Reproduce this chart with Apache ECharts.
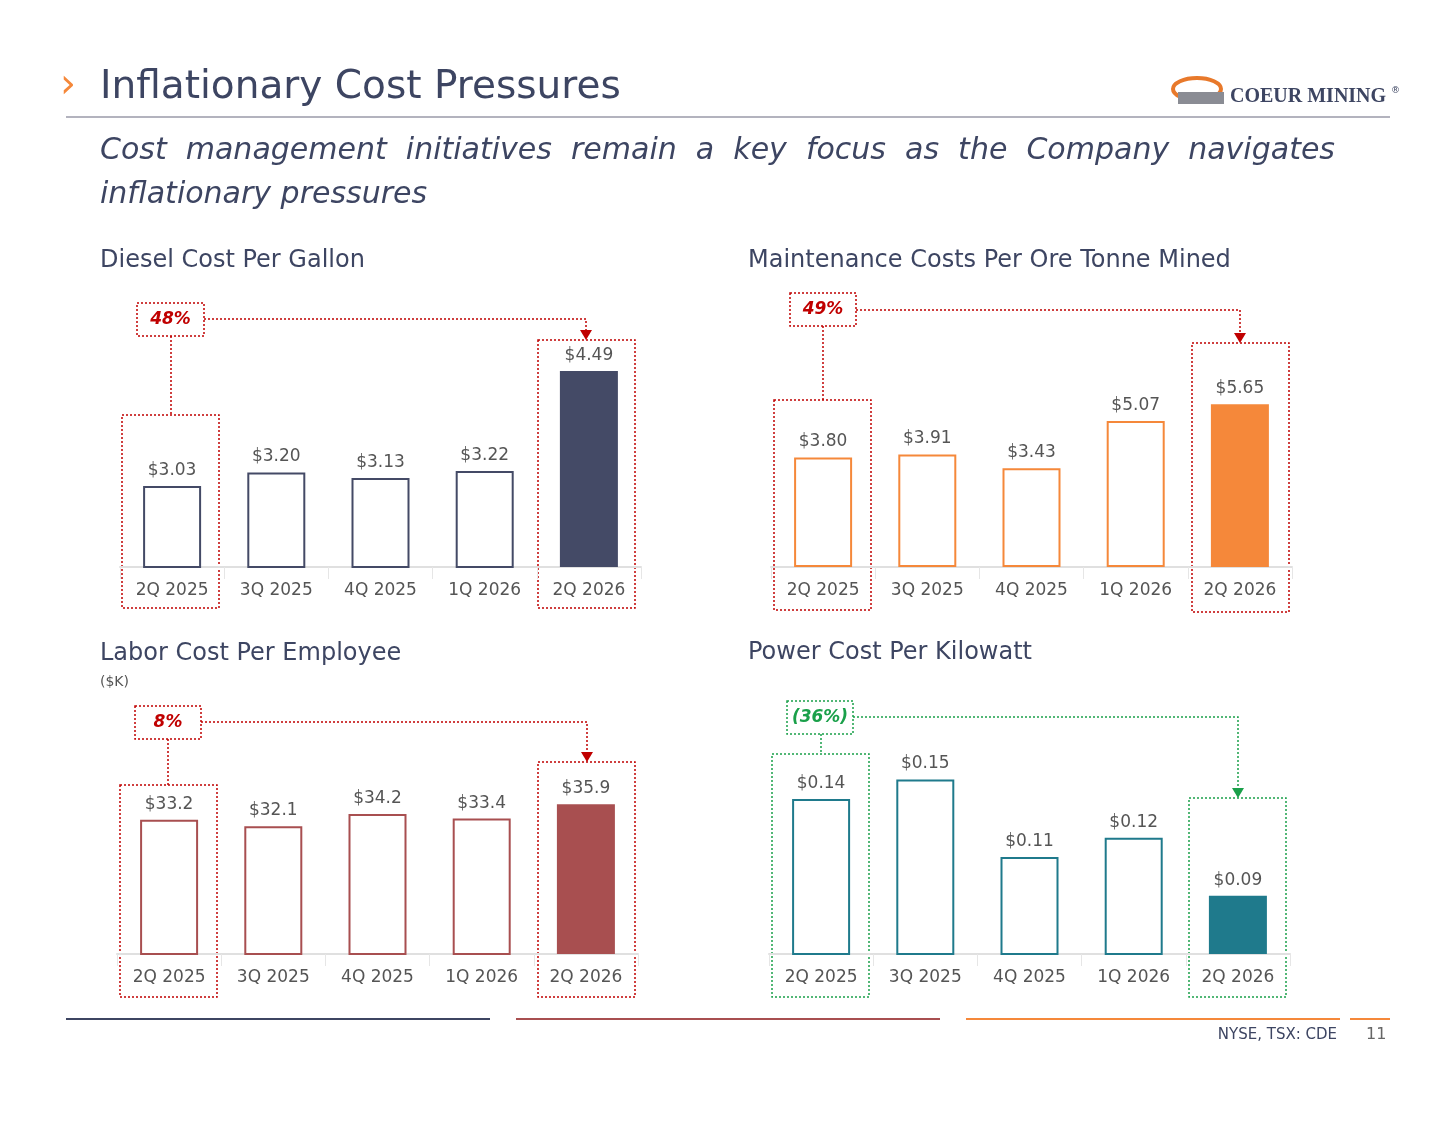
<!DOCTYPE html>
<html><head><meta charset="utf-8">
<script src="https://cdn.jsdelivr.net/npm/echarts@6/dist/echarts.min.js"></script>
<style>html,body{margin:0;padding:0;background:#fff}#c{width:1456px;height:1125px}</style>
</head><body><div id="c"></div>
<script>
const categories = ['2Q 2025','3Q 2025','4Q 2025','1Q 2026','2Q 2026'];
const diesel = [3.03, 3.20, 3.13, 3.22, 4.49];
const maintenance = [3.80, 3.91, 3.43, 5.07, 5.65];
const labor = [33.2, 32.1, 34.2, 33.4, 35.9];
const power = [0.14, 0.15, 0.11, 0.12, 0.09];
const dieselLabels = ['$3.03','$3.20','$3.13','$3.22','$4.49'];
const maintLabels = ['$3.80','$3.91','$3.43','$5.07','$5.65'];
const laborLabels = ['$33.2','$32.1','$34.2','$33.4','$35.9'];
const powerLabels = ['$0.14','$0.15','$0.11','$0.12','$0.09'];

const FONT = 'DejaVu Sans';
const NAVY = '#3d4562';
const chart = echarts.init(document.getElementById('c'));

const grids = [
  {left:120, width:521, top:300, height:267},
  {left:771, width:521, top:300, height:267},
  {left:117, width:521, top:700, height:254},
  {left:769, width:521, top:700, height:254}
];
const yr = [[2, 5.39],[0, 9.27],[10, 53.9],[0.06, 0.191]];
const cols = ['#444a66','#f5883a','#a84f50','#1f7a8c'];
const vals = [diesel, maintenance, labor, power];
const labs = [dieselLabels, maintLabels, laborLabels, powerLabels];

const xAxis = grids.map((g,i)=>({type:'category', gridIndex:i, data:categories,
  axisLine:{lineStyle:{color:'#e0e0e0', width:2}},
  axisTick:{show:true, length:12, lineStyle:{color:'#e6e6e6'}},
  axisLabel:{color:'#555', fontFamily:FONT, fontSize:17, margin:15}}));
const yAxis = grids.map((g,i)=>({type:'value', gridIndex:i, min:yr[i][0], max:yr[i][1], show:false, splitLine:{show:false}}));
const series = vals.map((v,i)=>({type:'bar', xAxisIndex:i, yAxisIndex:i, barWidth:58,
  data:v.map((d,j)=>({value:d, itemStyle: j===4 ? {color:cols[i]} : {color:'#fff', borderColor:cols[i], borderWidth:2}})),
  label:{show:true, position:'top', distance:7, color:'#555', fontFamily:FONT, fontSize:17,
    formatter:p=>labs[i][p.dataIndex]}}));

const RED = '#c00000', GRN = '#1aa04a';
function dash(x,y,w,h,c){return {type:'rect', shape:{x,y,width:w,height:h}, style:{fill:null, stroke:c, lineWidth:1.5, lineDash:[2,2]}};}
function pl(pts,c){return {type:'polyline', shape:{points:pts}, style:{fill:null, stroke:c, lineWidth:1.5, lineDash:[2,2]}};}
function arrow(x,y,c){return {type:'polygon', shape:{points:[[x-6,y-10],[x+6,y-10],[x,y]]}, style:{fill:c}};}
function tag(x,y,w,h,t,c){return [dash(x,y,w,h,c), {type:'text', x:x+w/2, y:y+h/2, style:{text:t, fill:c, font:'italic bold 17px "DejaVu Sans"', align:'center', verticalAlign:'middle'}}];}
function txt(x,y,t,font,fill,extra){return Object.assign({type:'text', x, y, style:Object.assign({text:t, font, fill, verticalAlign:'middle'}, extra||{})});}

const graphic = [
  txt(60,87,'›','40px "DejaVu Sans"','#f5883a'),
  txt(100,88,'Inflationary Cost Pressures','39px "DejaVu Sans"',NAVY),
  {type:'line', shape:{x1:66,y1:117,x2:1390,y2:117}, style:{stroke:'#9a9aa8', lineWidth:1.5}},
  {type:'ellipse', shape:{cx:1197,cy:89,rx:24,ry:11}, style:{fill:null, stroke:'#e8792b', lineWidth:4}, z:1},
  {type:'rect', shape:{x:1178,y:92,width:46,height:12}, style:{fill:'#8a8c94'}, z:2},
  txt(1230,97,'COEUR MINING','bold 20px "Liberation Serif"',NAVY),
  txt(1391,91,'®','9px "DejaVu Sans"',NAVY),
  txt(100,151,'Cost  management  initiatives  remain  a  key  focus  as  the  Company  navigates','italic 30px "DejaVu Sans"',NAVY),
  txt(100,195,'inflationary pressures','italic 30px "DejaVu Sans"',NAVY),
  txt(100,261,'Diesel Cost Per Gallon','24px "DejaVu Sans"',NAVY),
  txt(748,261,'Maintenance Costs Per Ore Tonne Mined','24px "DejaVu Sans"',NAVY),
  txt(100,654,'Labor Cost Per Employee','24px "DejaVu Sans"',NAVY),
  txt(100,682,'($K)','14px "DejaVu Sans"','#555'),
  txt(748,653,'Power Cost Per Kilowatt','24px "DejaVu Sans"',NAVY),
  dash(122,415,97,193,RED), dash(538,340,97,268,RED),
  ...tag(137,303,67,33,'48%',RED),
  pl([[171,336],[171,415]],RED), pl([[204,319],[586,319],[586,330]],RED), arrow(586,340,RED),
  dash(774,400,97,210,RED), dash(1192,343,97,269,RED),
  ...tag(790,293,66,33,'49%',RED),
  pl([[823,326],[823,400]],RED), pl([[856,310],[1240,310],[1240,333]],RED), arrow(1240,343,RED),
  dash(120,785,97,212,RED), dash(538,762,97,235,RED),
  ...tag(135,706,66,33,'8%',RED),
  pl([[168,739],[168,785]],RED), pl([[201,722],[587,722],[587,752]],RED), arrow(587,762,RED),
  dash(772,754,97,243,GRN), dash(1189,798,97,199,GRN),
  ...tag(787,701,66,33,'(36%)',GRN),
  pl([[821,734],[821,754]],GRN), pl([[853,717],[1238,717],[1238,788]],GRN), arrow(1238,798,GRN),
  {type:'line', shape:{x1:66,y1:1019,x2:490,y2:1019}, style:{stroke:NAVY, lineWidth:2}},
  {type:'line', shape:{x1:516,y1:1019,x2:940,y2:1019}, style:{stroke:'#a84f50', lineWidth:2}},
  {type:'line', shape:{x1:966,y1:1019,x2:1340,y2:1019}, style:{stroke:'#f5883a', lineWidth:2}},
  {type:'line', shape:{x1:1350,y1:1019,x2:1390,y2:1019}, style:{stroke:'#f5883a', lineWidth:2}},
  txt(1337,1035,'NYSE, TSX: CDE','15px "DejaVu Sans"',NAVY,{align:'right'}),
  txt(1366,1035,'11','16px "DejaVu Sans"','#666')
];

chart.setOption({animation:false, grid:grids, xAxis, yAxis, series, graphic});
</script></body></html>
